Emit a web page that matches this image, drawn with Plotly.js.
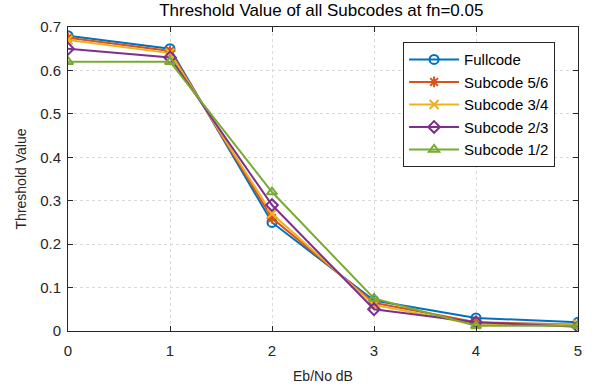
<!DOCTYPE html>
<html><head><meta charset="utf-8">
<script src="https://cdn.plot.ly/plotly-3.0.1.min.js"></script>
<style>html,body{margin:0;padding:0;background:#fff}#c{width:595px;height:387px}</style>
</head><body><div id="c"></div>
<script>
const ebno = [0, 1, 2, 3, 4, 5];
const fullcode = [0.68, 0.65, 0.25, 0.07, 0.03, 0.02];
const sub56 = [0.675, 0.645, 0.26, 0.065, 0.02, 0.015];
const sub34 = [0.67, 0.64, 0.27, 0.06, 0.015, 0.015];
const sub23 = [0.65, 0.63, 0.29, 0.05, 0.02, 0.01];
const sub12 = [0.62, 0.62, 0.32, 0.075, 0.012, 0.012];
const names = ['Fullcode', 'Subcode 5/6', 'Subcode 3/4', 'Subcode 2/3', 'Subcode 1/2'];
const series = [fullcode, sub56, sub34, sub23, sub12];
const colors = ['#0072BD', '#D95319', '#EDB120', '#7E2F8E', '#77AC30'];
const symbols = ['circle-open', 'asterisk-open', 'x-thin-open', 'diamond-open', 'triangle-up-open'];
const traces = series.map((s, i) => ({
  x: ebno, y: s, name: names[i], type: 'scatter', mode: 'lines+markers',
  line: {color: colors[i], width: 2},
  marker: {symbol: symbols[i], size: 9, color: colors[i], line: {color: colors[i], width: 2}}
}));
const ax = {
  showline: true, mirror: 'ticks', linecolor: '#262626', linewidth: 1,
  ticks: 'inside', ticklen: 5, tickcolor: '#262626',
  showgrid: true, gridcolor: '#d9d9d9', griddash: 'dot', gridwidth: 1,
  zeroline: false, tickfont: {size: 15, color: '#262626'}
};
const layout = {
  width: 595, height: 387,
  margin: {l: 68, r: 17, t: 27, b: 56},
  paper_bgcolor: '#fff', plot_bgcolor: '#fff',
  font: {family: 'Liberation Sans, Arial, sans-serif', color: '#262626'},
  title: {text: 'Threshold Value of all Subcodes at fn=0.05', font: {size: 17, color: '#000'}, x: 0.54, xanchor: 'center', y: 0.99, yanchor: 'top'},
  xaxis: Object.assign({}, ax, {range: [0, 5], dtick: 1, ticklabelstandoff: 6, title: {text: 'Eb/No dB', font: {size: 14}, standoff: 13}}),
  yaxis: Object.assign({}, ax, {range: [0, 0.7], dtick: 0.1, ticklabelstandoff: 3, title: {text: 'Threshold Value', font: {size: 14}, standoff: 10}}),
  legend: {x: 0.657, y: 0.95, xanchor: 'left', yanchor: 'top', bordercolor: '#262626', borderwidth: 1, bgcolor: '#fff', font: {size: 15, color: '#000'}, itemwidth: 50, tracegroupgap: 0},
  showlegend: true
};
Plotly.newPlot('c', traces, layout, {displayModeBar: false});
</script></body></html>
